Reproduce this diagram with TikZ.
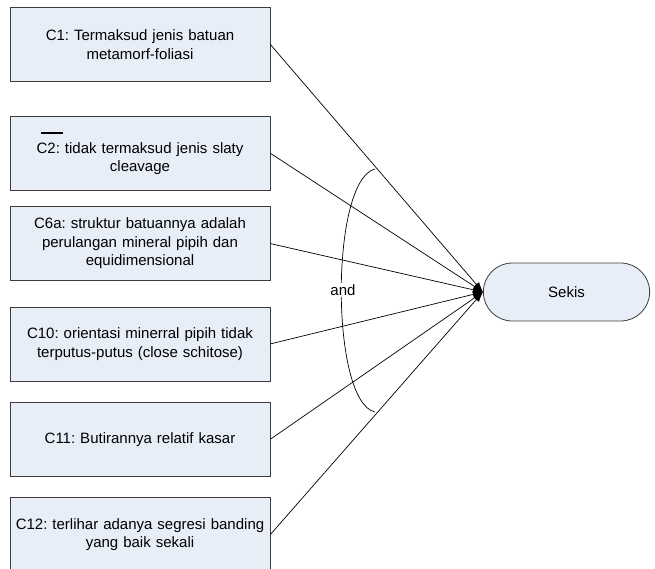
\documentclass[tikz,border=0pt]{standalone}
\usepackage{fontspec}
\setmainfont{Liberation Sans}
\usetikzlibrary{arrows.meta, positioning, shapes.misc}
\definecolor{boxfill}{RGB}{232,238,248}
\definecolor{boxline}{RGB}{60,60,60}
% bar over a negated premise
\newcommand{\negbar}[1]{\leavevmode\rlap{\hspace{0.3em}\rule[1.3em]{1.45em}{1.6pt}}#1}

\begin{document}
\frenchspacing
\begin{tikzpicture}[
    x=1pt, y=-1pt,
    font=\fontsize{15}{18.5}\selectfont,
    box/.style={rectangle, draw=boxline, fill=boxfill, line width=0.8pt, text width=256pt, inner xsep=2pt, align=center, minimum width=260pt, minimum height=74pt},
    goal/.style={rounded rectangle, draw=boxline, fill=boxfill, line width=0.8pt, minimum width=173pt, minimum height=58pt},
    arrow/.style={-{Latex[length=10pt,width=7pt]}, line width=0.7pt}
]
\useasboundingbox (0,0) rectangle (655,568);

\node[box] (c1) at (140,44.5) {C1: Termaksud jenis batuan\\metamorf-foliasi};
\node[box, below=34pt of c1] (c2) {\negbar{C2}: tidak termaksud jenis slaty\\cleavage};
\node[box, below=15.5pt of c2] (c6a) {C6a: struktur batuannya adalah\\perulangan mineral pipih dan\\equidimensional};
\node[box, below=25.5pt of c6a] (c10) {C10: orientasi minerral pipih tidak\\terputus-putus (close schitose)};
\node[box, below=20.5pt of c10] (c11) {C11: Butirannya relatif kasar};
\node[box, below=20.5pt of c11] (c12) {C12: terlihar adanya segresi banding\\yang baik sekali};
\node[goal] (sekis) at (566.5,292) {Sekis};

% conjunction arc
\coordinate (arctop) at (375,169);
\coordinate (arcbot) at (375,412);
\draw[line width=0.7pt] (arctop) .. controls (330,180) and (330,402) .. (arcbot);
\node[fill=white, inner sep=1pt] (and) at (343,290) {and};

\draw[arrow] (c1.east) -- (sekis.west);
\draw[arrow] (c2.east) -- (sekis.west);
\draw[arrow] (c6a.east) -- (sekis.west);
\draw[arrow] (c10.east) -- (sekis.west);
\draw[arrow] (c11.east) -- (sekis.west);
\draw[arrow] (c12.east) -- (sekis.west);
\end{tikzpicture}
\end{document}
